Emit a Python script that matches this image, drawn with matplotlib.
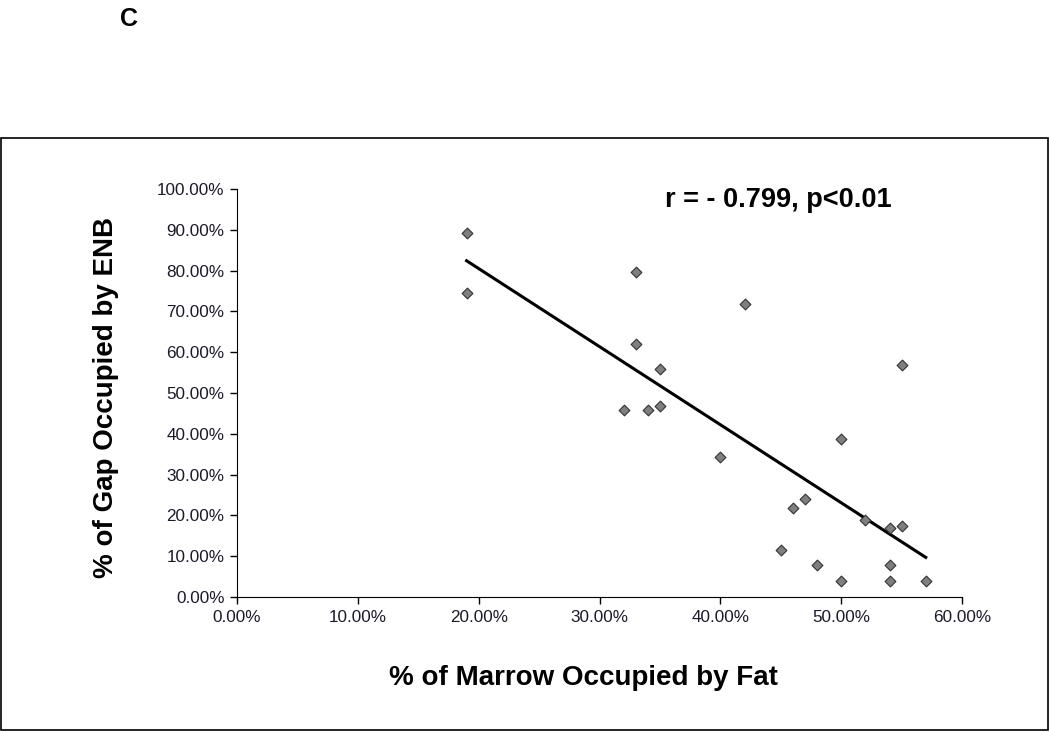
import numpy as np
import matplotlib
matplotlib.use('Agg')
import matplotlib.pyplot as plt
from matplotlib.patches import Rectangle
from matplotlib.ticker import FuncFormatter

plt.rcParams['font.family'] = ['Liberation Sans', 'DejaVu Sans']

# % de médula ocupada por grasa vs % del gap ocupado por ENB
fat_pct = [19, 19, 33, 33, 32, 34, 35, 35, 42, 40, 50, 55,
           46, 47, 52, 54, 55, 45, 48, 54, 50, 54, 57]
enb_pct = [89.2, 74.5, 79.7, 62.0, 45.8, 45.8, 46.8, 55.9, 71.8, 34.3, 38.8, 56.9,
           21.9, 24.0, 18.9, 16.9, 17.5, 11.4, 7.8, 7.8, 3.9, 3.9, 3.9]

x_ticks = [0, 10, 20, 30, 40, 50, 60]
y_ticks = [0, 10, 20, 30, 40, 50, 60, 70, 80, 90, 100]

W, H = 1050, 732
fig = plt.figure(figsize=(10.5, 7.32), dpi=100)
ax = fig.add_axes([237 / W, 1 - 597 / H, (962 - 237) / W, (597 - 189) / H])

# marco alrededor del gráfico
fig.patches.append(Rectangle((0.5 / W, 1 - 730 / H), 1047 / W, (730 - 138) / H,
                             transform=fig.transFigure, fill=False, edgecolor='black', linewidth=1.2))

ax.scatter(fat_pct, enb_pct, marker='D', s=30, facecolor='#7f7f7f', edgecolor='#333333',
           linewidth=0.8, zorder=3)

# línea de tendencia (mínimos cuadrados)
pend, inter = np.polyfit(fat_pct, enb_pct, 1)
xl = np.array([min(fat_pct), max(fat_pct)])
ax.plot(xl, pend * xl + inter, color='black', linewidth=2.2, zorder=2)

ax.set_xlim(0, 60)
ax.set_ylim(0, 100)
ax.set_xticks(x_ticks)
ax.set_yticks(y_ticks)
fmt = FuncFormatter(lambda v, p: f"{v:.2f}%")
ax.xaxis.set_major_formatter(fmt)
ax.yaxis.set_major_formatter(fmt)
ax.tick_params(direction='out', length=5, width=1, labelsize=12.3, colors='black', pad=4)
for lbl in ax.get_xticklabels() + ax.get_yticklabels():
    lbl.set_color('#1a1a2a')
ax.spines['top'].set_visible(False)
ax.spines['right'].set_visible(False)

fig.text(583 / W, 1 - 678 / H, '% of Marrow Occupied by Fat', fontsize=20,
         fontweight='bold', ha='center', va='center')
fig.text(106 / W, 1 - 397 / H, '% of Gap Occupied by ENB', fontsize=20,
         fontweight='bold', ha='center', va='center', rotation=90)

fig.text(778 / W, 1 - 200 / H, 'r = - 0.799, p<0.01', fontsize=19.5,
         fontweight='bold', ha='center', va='center')

fig.text(129 / W, 1 - 19 / H, 'C', fontsize=18, fontweight='bold', ha='center', va='center')

fig.savefig('out.png', dpi=100)
